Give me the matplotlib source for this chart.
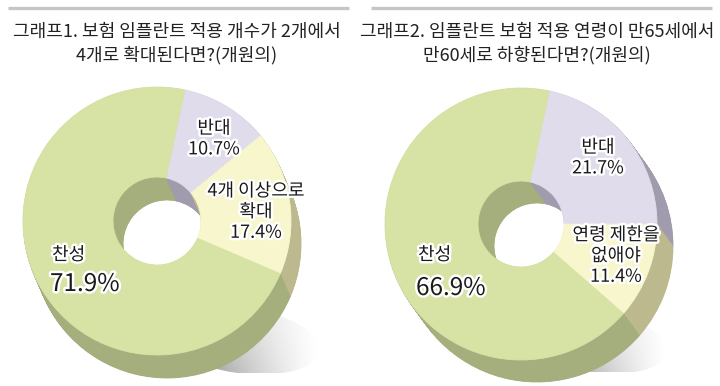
"""Two 3D-style donut charts (survey of dentists)."""

import matplotlib
matplotlib.use("Agg")
import matplotlib.pyplot as plt
import matplotlib.patheffects as pe
from matplotlib.patches import Wedge, Ellipse
import numpy as np

plt.rcParams["font.family"] = ["Noto Sans CJK KR", "DejaVu Sans"]

# --- data -------------------------------------------------------------
title1 = "그래프1. 보험 임플란트 적용 개수가 2개에서\n4개로 확대된다면?(개원의)"
title2 = "그래프2. 임플란트 보험 적용 연령이 만65세에서\n만60세로 하향된다면?(개원의)"

labels1 = ["반대", "4개 이상으로\n확대", "찬성"]
values1 = [10.7, 17.4, 71.9]

labels2 = ["반대", "연령 제한을\n없애야", "찬성"]
values2 = [21.7, 11.4, 66.9]

top_colors = ["#e0dcec", "#f8f6cc", "#d7e2a5"]
side_colors = ["#a09cae", "#bdb98f", "#a5ae7d"]

H = 386  # figure height in px, used to flip y


def Y(y):
    return H - y


def draw_shadow(ax, cx, cy, w, h, angle):
    e = Ellipse((cx, Y(cy)), w, h, angle=angle, fc="none", ec="none")
    ax.add_patch(e)
    X, Yg = np.meshgrid(np.linspace(0, 1, 200), np.linspace(0, 1, 100))
    dark = np.clip((1 - X) ** 1.3 * (1 - 0.5 * Yg), 0, 1)
    img = ax.imshow(1 - 0.6 * dark, cmap="gray", vmin=0, vmax=1, origin="lower",
                    extent=(cx - w / 2, cx + w / 2, Y(cy) - h / 2, Y(cy) + h / 2),
                    zorder=1, aspect="auto")
    img.set_clip_path(e)


def draw_donut(ax, values, cx, cy, r, r_in, dx, dy, start=78, n=40):
    cum = np.concatenate([[0], np.cumsum(values)]) / sum(values) * 360
    angles = [(start - cum[i + 1], start - cum[i]) for i in range(len(values))]
    # extruded side, farthest first
    for k in range(n, 0, -1):
        ox, oy = cx + dx * k / n, Y(cy) - dy * k / n
        for (t1, t2), c in zip(angles, side_colors):
            ax.add_patch(Wedge((ox, oy), r, t1, t2, width=r - r_in,
                               fc=c, ec=c, lw=0.6, zorder=2))
    for (t1, t2), c in zip(angles, top_colors):
        ax.add_patch(Wedge((cx, Y(cy)), r, t1, t2, width=r - r_in,
                           fc=c, ec=c, lw=0.6, zorder=3))


def label(ax, x, y, s, size=13, ha="center"):
    ax.text(x, Y(y), s, ha=ha, va="center", fontsize=size, color="#1a1a1a",
            linespacing=1.2, zorder=5, fontweight="medium",
            path_effects=[pe.withStroke(linewidth=3.5, foreground="white")])


fig = plt.figure(figsize=(7.2, 3.86), dpi=100)
ax = fig.add_axes([0, 0, 1, 1])
ax.set_xlim(0, 720)
ax.set_ylim(0, H)
ax.axis("off")

# header rules and titles
ax.plot([8, 349], [Y(8), Y(8)], color="#c6c6c6", lw=2.4, solid_capstyle="butt")
ax.plot([371, 712], [Y(8), Y(8)], color="#c6c6c6", lw=2.4, solid_capstyle="butt")
ax.text(177, Y(44), title1, ha="center", va="center", fontsize=13,
        color="#222222", linespacing=1.35, fontweight="medium")
ax.text(537, Y(44), title2, ha="center", va="center", fontsize=13,
        color="#222222", linespacing=1.35, fontweight="medium")

# chart 1
draw_shadow(ax, 240, 340, 160, 66, -8)
draw_donut(ax, values1, 157, 221, 134, 44, 10, 23)
label(ax, 214, 139, f"{labels1[0]}\n{values1[0]}%")
label(ax, 256, 212, f"{labels1[1]}\n{values1[1]}%")
label(ax, 52, 255, labels1[2], ha="left")
label(ax, 50, 284, f"{values1[2]}%", size=17.5, ha="left")

# chart 2
draw_shadow(ax, 594, 342, 148, 60, -8)
draw_donut(ax, values2, 521, 224, 136, 43, 16, 22)
label(ax, 598, 158, f"{labels2[0]}\n{values2[0]}%")
label(ax, 616, 256, f"{labels2[1]}\n{values2[1]}%")
label(ax, 418, 255, labels2[2], ha="left")
label(ax, 416, 288, f"{values2[2]}%", size=17.5, ha="left")

fig.savefig("out.png", dpi=100)
